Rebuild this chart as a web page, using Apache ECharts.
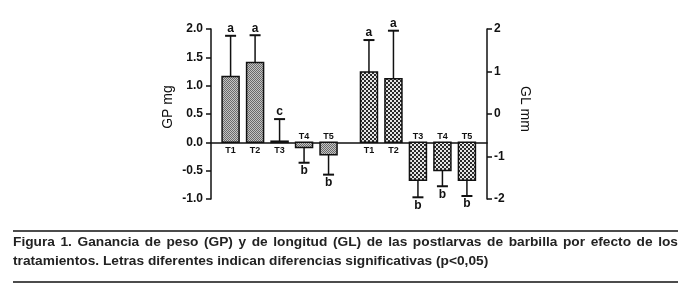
<!DOCTYPE html>
<html><head><meta charset="utf-8">
<script src="https://cdn.jsdelivr.net/npm/echarts@6/dist/echarts.min.js"></script>
<style>html,body{margin:0;padding:0;background:#fff}#c{width:695px;height:285px}</style>
</head><body><div id="c"></div>
<script>
// ---- data ----
const treatments = ['T1', 'T2', 'T3', 'T4', 'T5'];
const gpMean = [1.16, 1.41, 0.02, -0.09, -0.22];
const gpErr = [0.72, 0.48, 0.39, 0.27, 0.35];
const gpLetters = ['a', 'a', 'c', 'b', 'b'];
const glMean = [0.99, 0.83, -1.56, -1.33, -1.56];
const glErr = [0.75, 1.13, 0.40, 0.37, 0.37];
const glLetters = ['a', 'a', 'b', 'b', 'b'];
const gpTicks = [-1.0, -0.5, 0.0, 0.5, 1.0, 1.5, 2.0];
const glTicks = [-2, -1, 0, 1, 2];
const captionLine1 = 'Figura 1.  Ganancia de peso (GP) y de longitud (GL) de las postlarvas de barbilla por efecto de los';
const captionLine2 = 'tratamientos. Letras diferentes indican diferencias significativas (p<0,05)';

// ---- layout ----
const gpX = [0.8, 1.8, 2.8, 3.8, 4.8];
const glX = [6.45, 7.45, 8.45, 9.45, 10.45];
const gpMin = gpTicks[0], gpMax = gpTicks[gpTicks.length - 1];
const glMin = glTicks[0], glMax = glTicks[glTicks.length - 1];
// GL bars grow from the shared baseline (GP = 0)
const glBase = glMin + (glMax - glMin) * (0 - gpMin) / (gpMax - gpMin);

function makePattern(kind) {
  const c = document.createElement('canvas');
  c.width = 4; c.height = 4;
  const g = c.getContext('2d');
  if (kind === 'gp') {
    for (let y = 0; y < 4; y++) for (let x = 0; x < 4; x++) {
      g.fillStyle = ((x + y) % 2 === 0) ? '#6a6a6a' : '#c4c4c4';
      g.fillRect(x, y, 1, 1);
    }
  } else {
    g.fillStyle = '#e6e6e6'; g.fillRect(0, 0, 4, 4);
    g.fillStyle = '#2a2a2a';
    g.fillRect(0, 0, 2, 2); g.fillRect(2, 2, 2, 2);
  }
  return { image: c, repeat: 'repeat' };
}
const gpFill = makePattern('gp');
const glFill = makePattern('gl');

function makeRender(base, letters, fill) {
  return function (params, api) {
    const x = api.value(0), v = api.value(1), e = api.value(2), i = params.dataIndex;
    const end = api.coord([x, v]);
    const b = api.coord([x, base]);
    const tip = api.coord([x, v >= 0 ? v + e : v - e]);
    const w = 17, cap = 11;
    const kids = [];
    kids.push({ type: 'line', shape: { x1: end[0], y1: end[1], x2: tip[0], y2: tip[1] },
      style: { stroke: '#111', lineWidth: 1.5 } });
    kids.push({ type: 'line', shape: { x1: tip[0] - cap / 2, y1: tip[1], x2: tip[0] + cap / 2, y2: tip[1] },
      style: { stroke: '#111', lineWidth: 2 } });
    kids.push({ type: 'rect', shape: { x: end[0] - w / 2, y: Math.min(end[1], b[1]), width: w, height: Math.max(1, Math.abs(b[1] - end[1])) },
      style: { fill: fill, stroke: '#111', lineWidth: 1.5 } });
    const pos = v >= 0;
    kids.push({ type: 'text', x: tip[0], y: pos ? tip[1] - 1 : tip[1] + 2,
      style: { text: letters[i], font: 'bold 12px "Liberation Sans", Arial', fill: '#111',
        align: 'center', verticalAlign: pos ? 'bottom' : 'top' } });
    kids.push({ type: 'text', x: b[0], y: pos ? b[1] + 8 : b[1] - 6,
      style: { text: treatments[i], font: 'bold 9px "Liberation Sans", Arial', fill: '#111',
        align: 'center', verticalAlign: 'middle' } });
    return { type: 'group', children: kids };
  };
}

// caption: justified first line, natural second line
const capFont = 'bold 13px "Liberation Sans", Arial';
const capScale = 1.055;
const mctx = document.createElement('canvas').getContext('2d');
mctx.font = capFont;
function captionWords(text, x0, y, targetWidth) {
  const words = text.split(/\s+/);
  const widths = words.map(w => mctx.measureText(w).width * capScale);
  const total = widths.reduce((a, b) => a + b, 0);
  const gap = targetWidth ? (targetWidth - total) / (words.length - 1) : mctx.measureText(' ').width * capScale;
  let x = x0;
  return words.map((w, i) => {
    const el = { type: 'text', x: x, y: y, scaleX: capScale,
      style: { text: w, font: capFont, fill: '#222', verticalAlign: 'middle' } };
    x += widths[i] + gap;
    return el;
  });
}

const chart = echarts.init(document.getElementById('c'), null, { renderer: 'canvas' });
const tickFont = { fontFamily: '"Liberation Sans", Arial', fontWeight: 'bold', fontSize: 12, color: '#111' };
chart.setOption({
  animation: false,
  backgroundColor: '#fff',
  grid: { left: 211, right: 208, top: 29, bottom: 86 },
  xAxis: {
    type: 'value', min: 0, max: 11.27,
    axisLine: { show: true, onZero: true, onZeroAxisIndex: 0, lineStyle: { color: '#111', width: 1.5 } },
    axisTick: { show: false }, axisLabel: { show: false }, splitLine: { show: false }
  },
  yAxis: [
    { type: 'value', min: gpMin, max: gpMax, interval: 0.5, position: 'left',
      axisLine: { show: true, onZero: false, lineStyle: { color: '#111', width: 1.5 } },
      axisTick: { show: true, length: 5, lineStyle: { color: '#111', width: 1.5 } },
      axisLabel: Object.assign({ margin: 8, formatter: v => v.toFixed(1) }, tickFont),
      splitLine: { show: false } },
    { type: 'value', min: glMin, max: glMax, interval: 1, position: 'right',
      axisLine: { show: true, onZero: false, lineStyle: { color: '#111', width: 1.5 } },
      axisTick: { show: true, length: 5, lineStyle: { color: '#111', width: 1.5 } },
      axisLabel: Object.assign({ margin: 7, formatter: v => String(v) }, tickFont),
      splitLine: { show: false } }
  ],
  series: [
    { type: 'custom', yAxisIndex: 0, clip: false,
      renderItem: makeRender(0, gpLetters, gpFill),
      data: gpMean.map((m, i) => [gpX[i], m, gpErr[i]]) },
    { type: 'custom', yAxisIndex: 1, clip: false,
      renderItem: makeRender(glBase, glLetters, glFill),
      data: glMean.map((m, i) => [glX[i], m, glErr[i]]) }
  ],
  graphic: [
    { type: 'text', x: 168, y: 107, rotation: Math.PI / 2,
      style: { text: 'GP mg', font: '14px "Liberation Sans", Arial', fill: '#111', align: 'center', verticalAlign: 'middle' } },
    { type: 'text', x: 525, y: 109, rotation: -Math.PI / 2,
      style: { text: 'GL mm', font: '14px "Liberation Sans", Arial', fill: '#111', align: 'center', verticalAlign: 'middle' } },
    { type: 'line', shape: { x1: 13, y1: 231, x2: 678, y2: 231 }, style: { stroke: '#111', lineWidth: 1.5 } },
    { type: 'line', shape: { x1: 13, y1: 282, x2: 678, y2: 282 }, style: { stroke: '#111', lineWidth: 1.5 } }
  ].concat(captionWords(captionLine1, 13, 242, 665))
   .concat(captionWords(captionLine2, 13, 261, 0))
});
</script></body></html>
